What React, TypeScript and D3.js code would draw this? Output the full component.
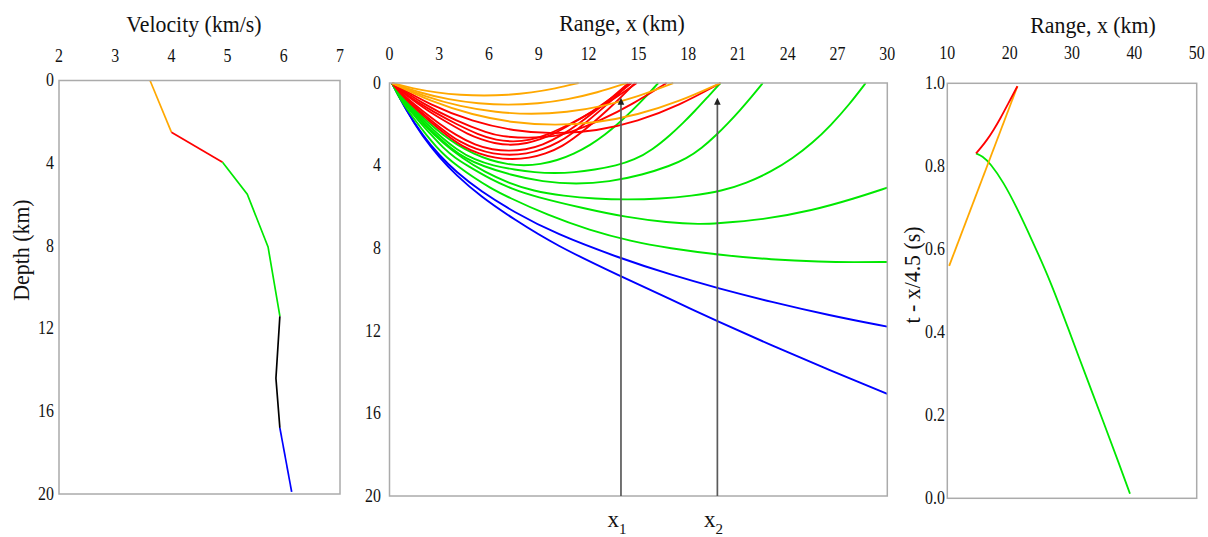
import React from "react";
import * as d3 from "d3";

type P = [number, number];

// ---------- tick labels ----------
const velocityTicks = [2, 3, 4, 5, 6, 7];
const depthTicks = [0, 4, 8, 12, 16, 20];
const rangeTicks = [0, 3, 6, 9, 12, 15, 18, 21, 24, 27, 30];
const reducedRangeTicks = [10, 20, 30, 40, 50];
const reducedTimeTicks = [0, 0.2, 0.4, 0.6, 0.8, 1.0];

// ---------- velocity profile (velocity km/s, depth km) ----------
const profileLayer1: P[] = [[3.62, 0], [4.0, 2.5]];
const profileLayer2: P[] = [[4.0, 2.5], [4.91, 3.95]];
const profileLayer3: P[] = [[4.91, 3.95], [5.35, 5.5], [5.72, 8.05], [5.93, 11.4]];
const profileLayer4: P[] = [[5.93, 11.4], [5.86, 14.4], [5.93, 16.8]];
const profileLayer5: P[] = [[5.93, 16.8], [6.14, 19.9]];

// ---------- ray paths (range km, depth km) ----------
const raysLayer1: P[][] = [
  [[0.15, 0], [1.43, 0.27], [2.85, 0.465], [4.28, 0.58], [5.7, 0.62], [7.13, 0.58], [8.55, 0.465], [9.98, 0.27], [11.4, 0]],
  [[0.15, 0], [1.79, 0.47], [3.58, 0.8], [5.36, 1.0], [7.15, 1.07], [8.94, 1.0], [10.73, 0.8], [12.51, 0.47], [14.3, 0]],
  [[0.15, 0], [2.14, 0.665], [4.28, 1.14], [6.41, 1.425], [8.55, 1.52], [10.69, 1.425], [12.83, 1.14], [14.96, 0.665], [17.1, 0]],
  [[0.15, 0], [2.49, 0.9], [4.99, 1.545], [7.48, 1.93], [9.98, 2.06], [12.47, 1.93], [14.96, 1.545], [17.46, 0.9], [19.95, 0]],
];

const raysLayer2: P[][] = [
  [[0.15, 0], [2.49, 1.085], [4.99, 1.86], [7.48, 2.325], [9.98, 2.48], [12.47, 2.325], [14.96, 1.86], [17.46, 1.085], [19.95, 0]],
  [[0.15, 0], [2, 1.0], [4, 1.83], [6, 2.45], [6.7, 2.58], [8.35, 2.68], [10, 2.58], [10.7, 2.45], [12.7, 1.83], [14.7, 1.0], [16.7, 0]],
  [[0.15, 0], [1.3, 0.74], [2.7, 1.42], [4.0, 1.98], [5.35, 2.5], [6.45, 2.78], [7.45, 2.85], [8.45, 2.78], [9.55, 2.5], [10.9, 1.98], [12.2, 1.42], [13.6, 0.74], [14.9, 0]],
  [[0.15, 0], [1.2, 0.73], [2.4, 1.39], [3.6, 1.97], [4.77, 2.5], [5.5, 2.72], [6.3, 2.92], [7.3, 3.02], [8.3, 2.92], [9.1, 2.72], [9.83, 2.5], [11.0, 1.97], [12.2, 1.39], [13.4, 0.73], [14.6, 0]],
  [[0.15, 0], [1, 0.71], [2, 1.36], [3, 1.97], [3.95, 2.5], [5.2, 3.03], [6.2, 3.23], [7.2, 3.3], [8.2, 3.23], [9.2, 3.03], [10.45, 2.5], [11.4, 1.97], [12.4, 1.36], [13.4, 0.71], [14.4, 0]],
  [[0.15, 0], [0.9, 0.69], [1.8, 1.33], [2.7, 1.94], [3.6, 2.5], [4.25, 2.85], [5.25, 3.22], [6.25, 3.43], [7.25, 3.5], [8.25, 3.43], [9.25, 3.22], [10.25, 2.85], [10.9, 2.5], [11.8, 1.94], [12.7, 1.33], [13.6, 0.69], [14.5, 0]],
  [[0.15, 0], [0.85, 0.69], [1.7, 1.34], [2.55, 1.94], [3.4, 2.5], [4.4, 3.08], [5.4, 3.43], [6.4, 3.64], [7.4, 3.7], [8.4, 3.64], [9.4, 3.43], [10.4, 3.08], [11.4, 2.5], [12.25, 1.94], [13.1, 1.34], [13.95, 0.69], [14.8, 0]],
];

const raysLayer3: P[][] = [
  [[0.15, 0], [0.8, 0.71], [1.6, 1.36], [2.4, 1.96], [3.2, 2.5], [4.1, 3.01], [5.1, 3.44], [6.1, 3.75], [7.1, 3.94], [8.1, 4.0], [9.1, 3.94], [10.1, 3.75], [11.1, 3.44], [12.1, 3.01], [13.0, 2.5], [13.8, 1.96], [14.6, 1.36], [15.4, 0.71], [16.2, 0]],
  [[0.15, 0], [0.75, 0.7], [1.5, 1.36], [2.2, 1.93], [2.95, 2.5], [4.05, 3.23], [5.15, 3.73], [6.23, 4.0], [7.55, 4.2], [8.75, 4.33], [9.95, 4.37], [11.15, 4.33], [12.35, 4.2], [13.67, 4.0], [14.75, 3.73], [15.85, 3.23], [16.95, 2.5], [17.7, 1.93], [18.4, 1.36], [19.15, 0.7], [19.95, 0]],
  [[0.15, 0], [0.7, 0.69], [1.4, 1.34], [2.1, 1.95], [2.78, 2.5], [3.68, 3.16], [4.63, 3.67], [5.55, 4.0], [7.25, 4.45], [9.25, 4.79], [11.25, 4.9], [13.25, 4.79], [15.25, 4.45], [16.95, 4.0], [17.87, 3.67], [18.82, 3.16], [19.72, 2.5], [20.4, 1.95], [21.1, 1.34], [21.8, 0.69], [22.5, 0]],
  [[0.15, 0], [1.0, 1.05], [2.1, 2.05], [3.2, 2.9], [4.4, 3.65], [5.7, 4.3], [7.2, 4.85], [8.65, 5.23], [10.5, 5.47], [12.4, 5.61], [14.35, 5.65], [16.3, 5.61], [18.2, 5.47], [20.05, 5.23], [21.5, 4.85], [23, 4.3], [24.3, 3.65], [25.5, 2.9], [26.6, 2.05], [27.7, 1.05], [28.7, 0]],
  [[0.15, 0], [0.63, 0.7], [1.25, 1.35], [1.88, 1.95], [2.5, 2.5], [3.23, 3.14], [3.97, 3.64], [4.7, 4.0], [6.05, 4.64], [7.4, 5.14], [8.75, 5.5], [11.75, 6.08], [14.25, 6.5], [16.75, 6.76], [18.8, 6.84], [19.6, 6.8], [22.5, 6.63], [25.5, 6.17], [28, 5.6], [30, 5.07]],
  [[0.15, 0], [0.55, 0.67], [1.1, 1.31], [1.65, 1.92], [2.2, 2.5], [2.82, 3.09], [3.45, 3.6], [4.07, 4.0], [5.07, 4.58], [6.07, 5.08], [7.06, 5.5], [9.56, 6.41], [12.06, 7.13], [14.56, 7.67], [16.82, 8.0], [20, 8.34], [23, 8.55], [26, 8.66], [28, 8.68], [30, 8.67]],
];

const raysLayer5: P[][] = [
  [[0.15, 0], [1, 1.3], [2, 2.55], [3, 3.5], [4, 4.3], [5.5, 5.25], [7.5, 6.25], [10, 7.3], [13.9, 8.49], [17, 9.3], [19.8, 9.94], [23, 10.6], [26.5, 11.25], [30, 11.8]],
  [[0.15, 0], [1, 1.32], [2, 2.6], [3, 3.6], [4, 4.45], [5.5, 5.5], [7.5, 6.6], [10, 7.85], [13.9, 9.35], [17, 10.5], [19.8, 11.55], [23, 12.7], [26.5, 13.9], [30, 15.06]],
];

// receivers (range km) and arrow tip depth (km)
const receiverRanges = [13.95, 19.76];
const receiverSubscripts = ["1", "2"];
const arrowTipDepth = 0.71;

// ---------- reduced travel time (range km, t - x/4.5 s) ----------
const reducedLayer1: P[] = [[10.3, 0.56], [21.25, 0.993]];
const reducedLayer2: P[] = [[14.6, 0.831], [15.3, 0.843], [16.35, 0.863], [17.4, 0.887], [18.5, 0.915], [19.8, 0.952], [21.25, 0.993]];
const reducedLayer3: P[] = [[14.6, 0.831], [15.6, 0.825], [16.9, 0.807], [19, 0.762], [21.1, 0.702], [23.5, 0.625], [26.5, 0.525], [29.5, 0.405], [32.1, 0.3], [35, 0.186], [37.5, 0.085], [39.3, 0.011]];

const colors = {
  l1: "#ffa800",
  l2: "#ff0000",
  l3: "#00e800",
  l4: "#000000",
  l5: "#0000ff",
};

const FONT = "'Liberation Serif', 'Times New Roman', serif";
const FRAME = "#ababab";
const TEXT = "#111";

type TxtProps = {
  x: number;
  y: number;
  size: number;
  sx?: number;
  anchor?: "start" | "middle" | "end";
  middle?: boolean;
  rotate?: number;
  children: React.ReactNode;
};

function Txt({ x, y, size, sx = 1, anchor = "middle", middle = false, rotate = 0, children }: TxtProps) {
  return (
    <text
      transform={`translate(${x},${y}) rotate(${rotate}) scale(${sx},1)`}
      fontSize={size}
      textAnchor={anchor}
      dominantBaseline={middle ? "central" : undefined}
      fill={TEXT}
    >
      {children}
    </text>
  );
}

export default function App() {
  const vX = d3.scaleLinear().domain([2, 7]).range([59, 340]);
  const vY = d3.scaleLinear().domain([0, 20]).range([80.5, 494]);
  const rX = d3.scaleLinear().domain([0, 30]).range([389.5, 887.3]);
  const rY = d3.scaleLinear().domain([0, 20]).range([83, 496]);
  const tX = d3.scaleLinear().domain([10, 50]).range([947.3, 1196.7]);
  const tY = d3.scaleLinear().domain([0, 1]).range([498.3, 83.3]);

  const profLine = d3.line<P>().x((d) => vX(d[0])).y((d) => vY(d[1]));
  const rayLine = d3
    .line<P>()
    .x((d) => rX(d[0]))
    .y((d) => rY(d[1]))
    .curve(d3.curveBasis);
  const ttLine = d3
    .line<P>()
    .x((d) => tX(d[0]))
    .y((d) => tY(d[1]))
    .curve(d3.curveBasis);

  const tickFs = 18.5;
  const tickSx = 0.86;
  const titleFs = 23;
  const titleSx = 0.95;

  const rayGroups: [P[][], string][] = [
    [raysLayer5, colors.l5],
    [raysLayer3, colors.l3],
    [raysLayer2, colors.l2],
    [raysLayer1, colors.l1],
  ];

  return (
    <svg
      width={1208}
      height={537}
      style={{ position: "absolute", left: 0, top: 0, display: "block", background: "#fff" }}
      fontFamily={FONT}
    >
      <defs>
        <clipPath id="midClip">
          <rect x={rX(0)} y={rY(0) - 2} width={rX(30) - rX(0)} height={rY(20) - rY(0) + 2} />
        </clipPath>
      </defs>

      {/* ===== Left panel: velocity profile ===== */}
      <Txt x={194} y={32} size={titleFs} sx={titleSx}>
        Velocity (km/s)
      </Txt>
      {velocityTicks.map((v) => (
        <Txt key={"vt" + v} x={vX(v)} y={62} size={tickFs} sx={tickSx}>
          {v}
        </Txt>
      ))}
      {depthTicks.map((z) => (
        <Txt key={"dl" + z} x={54} y={vY(z)} size={tickFs} sx={tickSx} anchor="end" middle>
          {z}
        </Txt>
      ))}
      <Txt x={29} y={250} size={titleFs} sx={titleSx} rotate={-90}>
        Depth (km)
      </Txt>
      {[
        [profileLayer1, colors.l1],
        [profileLayer2, colors.l2],
        [profileLayer3, colors.l3],
        [profileLayer4, colors.l4],
        [profileLayer5, colors.l5],
      ].map(([seg, c], i) => (
        <path key={"pf" + i} d={profLine(seg as P[]) || ""} fill="none" stroke={c as string} strokeWidth={1.7} />
      ))}
      <rect x={vX(2)} y={vY(0)} width={vX(7) - vX(2)} height={vY(20) - vY(0)} fill="none" stroke={FRAME} strokeWidth={1.5} />

      {/* ===== Middle panel: ray paths ===== */}
      <Txt x={622} y={31} size={titleFs} sx={titleSx}>
        Range, x (km)
      </Txt>
      {rangeTicks.map((r) => (
        <Txt key={"rt" + r} x={rX(r)} y={60} size={tickFs} sx={tickSx}>
          {r}
        </Txt>
      ))}
      {depthTicks.map((z) => (
        <Txt key={"rd" + z} x={381} y={rY(z)} size={tickFs} sx={tickSx} anchor="end" middle>
          {z}
        </Txt>
      ))}
      <g clipPath="url(#midClip)">
        {rayGroups.map(([rays, c], gi) =>
          rays.map((ray, i) => (
            <path
              key={`ray${gi}-${i}`}
              d={rayLine(ray) || ""}
              fill="none"
              stroke={c}
              strokeWidth={1.9}
              strokeLinejoin="round"
            />
          ))
        )}
      </g>
      <rect x={rX(0)} y={rY(0)} width={rX(30) - rX(0)} height={rY(20) - rY(0)} fill="none" stroke={FRAME} strokeWidth={1.5} />
      {receiverRanges.map((r, i) => {
        const x = rX(r);
        const tip = rY(arrowTipDepth);
        return (
          <g key={"arr" + i}>
            <line x1={x} x2={x} y1={rY(20)} y2={tip + 5} stroke="#5a5a5a" strokeWidth={1.7} />
            <path d={`M${x},${tip} L${x - 3.3},${tip + 7} L${x + 3.3},${tip + 7} Z`} fill="#222" />
            <text x={x - 4} y={527} fontSize={23} fill={TEXT} textAnchor="middle">
              x
              <tspan fontSize={15} dy={7}>
                {receiverSubscripts[i]}
              </tspan>
            </text>
          </g>
        );
      })}

      {/* ===== Right panel: reduced travel time ===== */}
      <Txt x={1093} y={33} size={titleFs} sx={titleSx}>
        Range, x (km)
      </Txt>
      {reducedRangeTicks.map((r) => (
        <Txt key={"tr" + r} x={tX(r)} y={59} size={tickFs} sx={tickSx}>
          {r}
        </Txt>
      ))}
      {reducedTimeTicks.map((t) => (
        <Txt key={"tt" + t} x={945} y={tY(t)} size={tickFs} sx={tickSx} anchor="end" middle>
          {t.toFixed(1)}
        </Txt>
      ))}
      <Txt x={920} y={275} size={titleFs} sx={titleSx} rotate={-90}>
        t - x/4.5 (s)
      </Txt>
      <path d={ttLine(reducedLayer3) || ""} fill="none" stroke={colors.l3} strokeWidth={1.8} />
      <path d={ttLine(reducedLayer1) || ""} fill="none" stroke={colors.l1} strokeWidth={1.8} />
      <path d={ttLine(reducedLayer2) || ""} fill="none" stroke={colors.l2} strokeWidth={1.8} />
      <rect x={tX(10)} y={tY(1)} width={tX(50) - tX(10)} height={tY(0) - tY(1)} fill="none" stroke={FRAME} strokeWidth={1.5} />
    </svg>
  );
}
